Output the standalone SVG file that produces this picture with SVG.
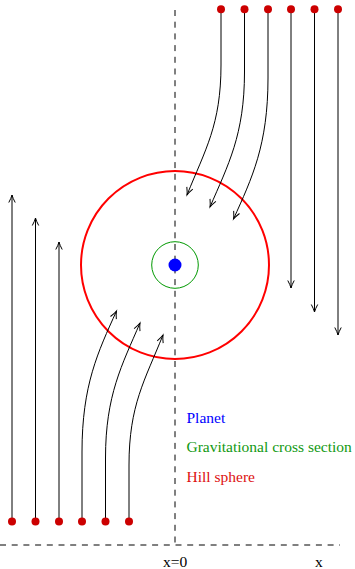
<svg xmlns="http://www.w3.org/2000/svg" width="355" height="569" viewBox="0 0 355 569">
<style>
.flow{fill:none;stroke:#000;stroke-width:1;marker-end:url(#ah)}
.dot{fill:#cc0000}
.axis{fill:none;stroke:#000;stroke-width:1;stroke-dasharray:6,5.7}
text{font-family:"Liberation Serif","Times New Roman",serif;font-size:15.5px}
</style>
<defs>
<marker id="ah" markerUnits="userSpaceOnUse" markerWidth="12" markerHeight="10" viewBox="-9 -5 11 10" refX="0" refY="0" orient="auto">
<path d="M-7.5,-3.2 Q-3,-0.8 0,0 Q-3,0.8 -7.5,3.2" fill="none" stroke="#000" stroke-width="1"/>
</marker>
</defs>
<rect width="355" height="569" fill="#fff"/>
<g id="axes">
<line class="axis" x1="175" y1="10" x2="175" y2="545"/>
<line class="axis" x1="0" y1="545" x2="340" y2="545"/>
</g>
<g id="hill-sphere"><circle cx="175" cy="265" r="94" fill="none" stroke="#ff0000" stroke-width="2"/></g>
<g id="cross-section"><circle cx="175" cy="265" r="23.3" fill="none" stroke="#009900" stroke-width="1"/></g>
<g id="planet"><circle cx="175" cy="265" r="6.5" fill="#0000ff"/></g>
<g id="connectors">
<path class="flow" d="M221,9 L221,65 C221,125 205,150 187,195"/>
<path class="flow" d="M244.5,9 L244.5,72 C244.5,135 228,165 210,207"/>
<path class="flow" d="M268,9 L268,78 C268,145 252,178 233.5,219"/>
<path class="flow" d="M291,9 L291,288"/>
<path class="flow" d="M314.5,9 L314.5,312"/>
<path class="flow" d="M338,9 L338,335"/>
<path class="flow" d="M129,521 L129,465 C129,405 145,380 163,335"/>
<path class="flow" d="M105.5,521 L105.5,458 C105.5,395 122,365 140,323"/>
<path class="flow" d="M82,521 L82,452 C82,385 98,352 116.5,311"/>
<path class="flow" d="M59,521 L59,242"/>
<path class="flow" d="M35.5,521 L35.5,218"/>
<path class="flow" d="M12,521 L12,195"/>
</g>
<g id="dots">
<circle class="dot" cx="221" cy="9.3" r="4"/>
<circle class="dot" cx="244.5" cy="9.3" r="4"/>
<circle class="dot" cx="268" cy="9.3" r="4"/>
<circle class="dot" cx="291" cy="9.3" r="4"/>
<circle class="dot" cx="314.5" cy="9.3" r="4"/>
<circle class="dot" cx="338" cy="9.3" r="4"/>
<circle class="dot" cx="12" cy="521.5" r="4"/>
<circle class="dot" cx="35.5" cy="521.5" r="4"/>
<circle class="dot" cx="59" cy="521.5" r="4"/>
<circle class="dot" cx="82" cy="521.5" r="4"/>
<circle class="dot" cx="105.5" cy="521.5" r="4"/>
<circle class="dot" cx="129" cy="521.5" r="4"/>
</g>
<g id="legend">
<text x="186.5" y="422.5" fill="#0000ff">Planet</text>
<text x="186.5" y="452" fill="#119911">Gravitational cross section</text>
<text x="186.5" y="481.5" fill="#dd1111">Hill sphere</text>
</g>
<g id="labels">
<text x="163" y="567">x=0</text>
<text x="315" y="567">x</text>
</g>
</svg>
